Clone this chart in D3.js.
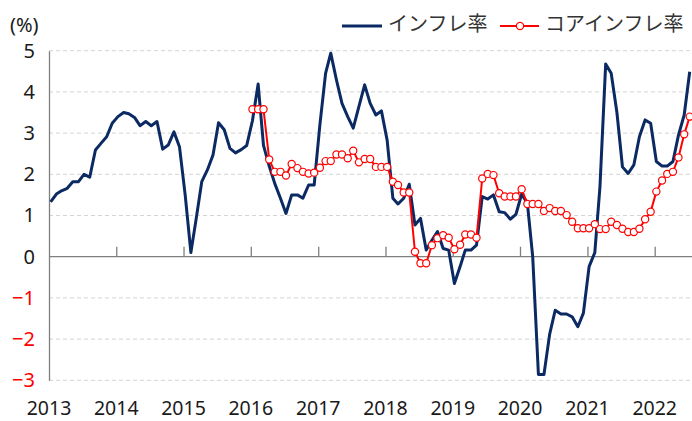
<!DOCTYPE html>
<html>
<head>
<meta charset="utf-8">
<script src="https://cdn.jsdelivr.net/npm/d3@7"></script>
<style>
  body { margin: 0; background: #fff; }
  svg text { font-family: "Noto Sans", "Noto Sans CJK JP", sans-serif; }
</style>
</head>
<body>
<div id="chart"></div>
<script>
//monthly values, Jan 2013 - Jul 2022 (%)
const inflation = [
  1.33, 1.52, 1.60, 1.66, 1.82, 1.82, 2.00, 1.93, 2.59, 2.75, 2.91, 3.24,
  3.40, 3.50, 3.47, 3.38, 3.18, 3.28, 3.18, 3.28, 2.61, 2.71, 3.03, 2.67,
  1.50, 0.10, 0.90, 1.82, 2.10, 2.47, 3.25, 3.08, 2.63, 2.52, 2.60, 2.70,
  3.30, 4.19, 2.70, 2.20, 1.78, 1.42, 1.05, 1.50, 1.50, 1.42, 1.74, 1.74,
  3.20, 4.45, 4.94, 4.29, 3.72, 3.40, 3.12, 3.65, 4.17, 3.72, 3.44, 3.54,
  2.83, 1.42, 1.28, 1.42, 1.76, 0.77, 0.93, 0.16, 0.40, 0.61, 0.20, 0.16,
  -0.65, -0.24, 0.16, 0.16, 0.28, 1.46, 1.40, 1.50, 1.09, 1.07, 0.91, 1.03,
  1.52, 1.30, 0.00, -2.86, -2.86, -1.88, -1.30, -1.39, -1.39, -1.46, -1.70, -1.37,
  -0.24, 0.10, 1.70, 4.68, 4.45, 3.50, 2.18, 2.02, 2.23, 2.91, 3.32, 3.24,
  2.31, 2.20, 2.20, 2.31, 2.95, 3.44, 4.49
];

//core inflation starts Jan 2016
const coreStart = 36;
const coreInflation = [
  3.58, 3.58, 3.58, 2.36, 2.06, 2.06, 1.97, 2.25, 2.15, 2.06, 2.02, 2.04,
  2.16, 2.32, 2.32, 2.48, 2.48, 2.39, 2.57, 2.29, 2.37, 2.37, 2.18, 2.18,
  2.18, 1.82, 1.74, 1.56, 1.56, 0.12, -0.16, -0.16, 0.28, 0.45, 0.52, 0.46,
  0.18, 0.29, 0.54, 0.54, 0.46, 1.90, 2.01, 1.98, 1.54, 1.46, 1.46, 1.46,
  1.64, 1.28, 1.28, 1.28, 1.11, 1.18, 1.11, 1.11, 1.01, 0.85, 0.69, 0.69,
  0.69, 0.79, 0.67, 0.67, 0.85, 0.77, 0.68, 0.60, 0.60, 0.68, 0.91, 1.09,
  1.58, 1.85, 2.01, 2.06, 2.41, 2.97, 3.40
];

const yTicks = [-3, -2, -1, 0, 1, 2, 3, 4, 5];
const xYears = [2013, 2014, 2015, 2016, 2017, 2018, 2019, 2020, 2021, 2022];
const seriesNames = ["インフレ率", "コアインフレ率"];

//svg size
const width = 692;
const height = 421;
const navy = "#0b2a63";
const red = "#ff0000";

const svg = d3.select("#chart")
  .append("svg")
  .attr("width", width)
  .attr("height", height);

const x = d3.scaleTime()
  .domain([new Date(2013, 0, 1), new Date(2022, 0, 1)])
  .range([49, 654.7]);
const y = d3.scaleLinear().domain([-3, 5]).range([380.3, 50.7]);

//point dates, placed slightly into each month
const dateOf = (i) => new Date(2013, i, 10);

//grid
svg.append("g")
  .selectAll("line")
  .data(yTicks.filter((d) => d !== 0))
  .join("line")
  .attr("x1", 49)
  .attr("x2", width)
  .attr("y1", (d) => y(d))
  .attr("y2", (d) => y(d))
  .attr("stroke", "#d4d4d4")
  .attr("stroke-width", 1)
  .attr("stroke-dasharray", "4,3");

//y axis
const yAxis = svg.append("g")
  .attr("transform", "translate(49,0)")
  .call(d3.axisLeft(y).tickValues(yTicks).tickSize(0).tickPadding(14).tickFormat(d3.format("d")));
yAxis.select(".domain").attr("stroke", "#7f7f7f").attr("stroke-width", 1.3);
yAxis.selectAll("text")
  .attr("font-size", 20)
  .attr("font-family", "Noto Sans")
  .attr("fill", (d) => (d < 0 ? red : "#1a1a1a"));

//x axis on zero line
const xAxis = svg.append("g")
  .attr("transform", `translate(0,${y(0)})`)
  .call(d3.axisTop(x)
    .tickValues(xYears.slice(1).map((yr) => new Date(yr, 0, 1)))
    .tickSize(10)
    .tickFormat(""));
xAxis.select(".domain").attr("d", `M49,0H${width}`).attr("stroke", "#7f7f7f").attr("stroke-width", 1.3);
xAxis.selectAll(".tick line").attr("stroke", "#7f7f7f").attr("stroke-width", 1.3);

//year labels
svg.append("g")
  .selectAll("text")
  .data(xYears)
  .join("text")
  .attr("x", (d) => x(new Date(d, 0, 1)))
  .attr("y", 415)
  .attr("text-anchor", "middle")
  .attr("font-size", 19.5)
  .attr("fill", "#1a1a1a")
  .text((d) => d);

svg.append("text")
  .attr("x", 10)
  .attr("y", 32)
  .attr("font-size", 20)
  .attr("fill", "#1a1a1a")
  .text("(%)");

//lines
const line = d3.line()
  .x((d) => x(d.date))
  .y((d) => y(d.value));

const inflationData = inflation.map((v, i) => ({ date: dateOf(i), value: v }));
const coreData = coreInflation.map((v, i) => ({ date: dateOf(coreStart + i), value: v }));

svg.append("path")
  .datum(inflationData)
  .attr("fill", "none")
  .attr("stroke", navy)
  .attr("stroke-width", 3)
  .attr("stroke-linejoin", "round")
  .attr("d", line);

svg.append("path")
  .datum(coreData)
  .attr("fill", "none")
  .attr("stroke", red)
  .attr("stroke-width", 2)
  .attr("d", line);

svg.append("g")
  .selectAll("circle")
  .data(coreData)
  .join("circle")
  .attr("cx", (d) => x(d.date))
  .attr("cy", (d) => y(d.value))
  .attr("r", 3.6)
  .attr("fill", "#fff")
  .attr("stroke", red)
  .attr("stroke-width", 1.2);

//legend
const gLegend = svg.append("g").attr("transform", "translate(0,26)");
gLegend.append("line")
  .attr("x1", 342).attr("x2", 382)
  .attr("stroke", navy).attr("stroke-width", 3);
gLegend.append("text")
  .attr("x", 388).attr("y", 0)
  .attr("dominant-baseline", "middle")
  .attr("font-family", "Noto Sans CJK JP")
  .attr("font-size", 20)
  .attr("fill", "#333")
  .text(seriesNames[0]);
gLegend.append("line")
  .attr("x1", 500).attr("x2", 539)
  .attr("stroke", red).attr("stroke-width", 2);
gLegend.append("circle")
  .attr("cx", 520).attr("r", 3.6)
  .attr("fill", "#fff").attr("stroke", red).attr("stroke-width", 1.2);
gLegend.append("text")
  .attr("x", 545).attr("y", 0)
  .attr("dominant-baseline", "middle")
  .attr("font-family", "Noto Sans CJK JP")
  .attr("font-size", 20)
  .attr("fill", "#333")
  .text(seriesNames[1]);
</script>
</body>
</html>
